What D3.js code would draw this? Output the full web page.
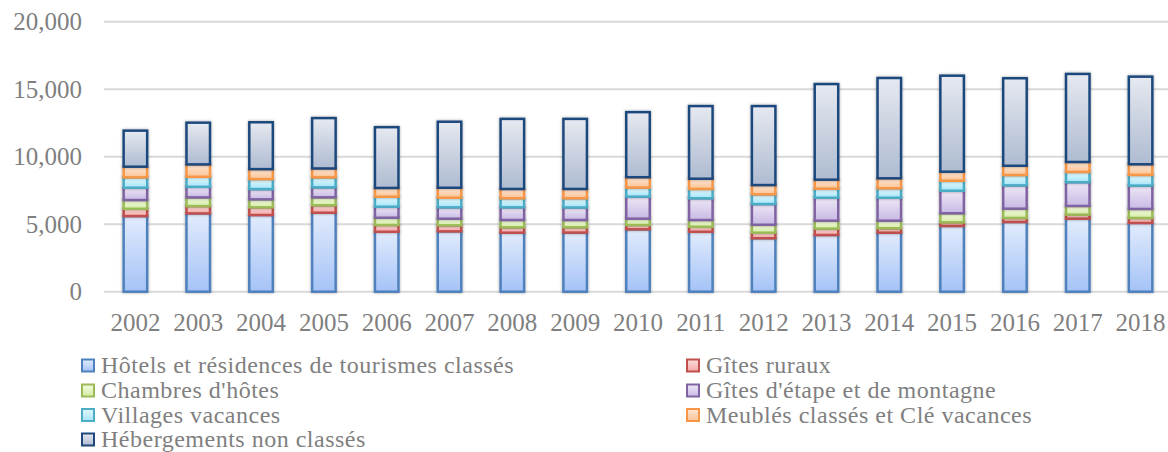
<!DOCTYPE html>
<html>
<head>
  <meta charset="utf-8">
  <script src="https://cdn.jsdelivr.net/npm/d3@7"></script>
  <style>
    body { margin: 0; background: #fff; }
    svg { display: block; font-family: "Liberation Serif", serif; }
  </style>
</head>
<body>
  <div id="container"></div>
  <script>
    // data
    const years = ["2002", "2003", "2004", "2005", "2006", "2007", "2008", "2009", "2010",
      "2011", "2012", "2013", "2014", "2015", "2016", "2017", "2018"];
    const hotels = [5600, 5800, 5680, 5850, 4440, 4470, 4370, 4380, 4620, 4440, 3960, 4200, 4370, 4870, 5160, 5410, 5090];
    const gitesRuraux = [540, 540, 570, 550, 500, 445, 400, 390, 320, 370, 410, 470, 330, 270, 300, 300, 370];
    const chambres = [650, 645, 590, 590, 540, 490, 540, 540, 470, 500, 590, 590, 560, 670, 690, 640, 670];
    const gitesEtape = [910, 785, 760, 740, 815, 845, 940, 930, 1630, 1610, 1530, 1700, 1700, 1670, 1730, 1760, 1730];
    const villages = [770, 740, 740, 740, 740, 710, 670, 680, 670, 690, 720, 670, 700, 740, 760, 760, 790];
    const meubles = [790, 920, 740, 660, 650, 740, 690, 690, 770, 760, 690, 670, 740, 670, 690, 740, 790];
    const nonClasses = [2670, 3090, 3470, 3730, 4500, 4890, 5190, 5190, 4820, 5380, 5850, 7080, 7430, 7110, 6480, 6520, 6490];
    const yTicks = [0, 5000, 10000, 15000, 20000];

    const seriesNames = ["Hôtels et résidences de tourismes classés", "Gîtes ruraux", "Chambres d'hôtes",
      "Gîtes d'étape et de montagne", "Villages vacances", "Meublés classés et Clé vacances", "Hébergements non classés"];
    const seriesValues = [hotels, gitesRuraux, chambres, gitesEtape, villages, meubles, nonClasses];

    // colours: border, gradient top, gradient bottom
    const strokes = ["#4f81bd", "#c0504d", "#9bbb59", "#8064a2", "#4bacc6", "#f79646", "#1f497d"];
    const topFill = ["#e1ebfc", "#fcdcdc", "#f3fbe0", "#eee8f6", "#e4f8fe", "#fee6d4", "#e6e9f0"];
    const botFill = ["#a5c3f7", "#f4a7a6", "#d5eca4", "#c8b9e4", "#a6e5f7", "#fbc395", "#aebbd1"];

    const width = 1168;
    const height = 452;

    const rows = years.map((y, i) => {
      const r = { year: y };
      seriesNames.forEach((n, k) => r[n] = seriesValues[k][i]);
      return r;
    });
    const stacked = d3.stack().keys(seriesNames)(rows);

    const svg = d3.select("#container")
      .append("svg")
      .attr("width", width)
      .attr("height", height);

    const defs = svg.append("defs");
    seriesNames.forEach((n, k) => {
      const g = defs.append("linearGradient")
        .attr("id", "grad" + k)
        .attr("x1", 0).attr("y1", 0).attr("x2", 0).attr("y2", 1);
      g.append("stop").attr("offset", "0%").attr("stop-color", topFill[k]);
      g.append("stop").attr("offset", "100%").attr("stop-color", botFill[k]);
    });
    defs.append("filter").attr("id", "shadow")
      .attr("x", "-30%").attr("y", "-30%").attr("width", "160%").attr("height", "160%")
      .append("feDropShadow")
      .attr("dx", 0).attr("dy", 0).attr("stdDeviation", 1.6)
      .attr("flood-color", "#000").attr("flood-opacity", 0.35);

    // scales
    const xScale = d3.scaleBand()
      .domain(years)
      .range([104, 1172])
      .paddingInner(0.586)
      .paddingOuter(0.293);

    const yScale = d3.scaleLinear()
      .domain([0, 20000])
      .range([291.7, 21.7]);

    // gridlines
    svg.append("g")
      .selectAll("line")
      .data(yTicks)
      .join("line")
      .attr("x1", 104)
      .attr("x2", width)
      .attr("y1", d => yScale(d))
      .attr("y2", d => yScale(d))
      .attr("stroke", "#d9d9d9")
      .attr("stroke-width", 2);

    // y axis labels
    const yAxis = svg.append("g")
      .attr("transform", "translate(104,0)")
      .call(d3.axisLeft(yScale).tickValues(yTicks).tickSize(0).tickPadding(22)
        .tickFormat(d3.format(",")));
    yAxis.select(".domain").remove();
    yAxis.selectAll("text")
      .attr("fill", "#7f7f7f")
      .style("font-family", "Liberation Serif")
      .style("font-size", "25px");

    // bars
    const barW = xScale.bandwidth();
    svg.append("g")
      .selectAll("g")
      .data(stacked)
      .join("g")
      .attr("filter", "url(#shadow)")
      .attr("fill", (d, k) => `url(#grad${k})`)
      .attr("stroke", (d, k) => strokes[k])
      .selectAll("rect")
      .data(d => d)
      .join("rect")
      .attr("x", d => xScale(d.data.year) + 1.25)
      .attr("width", barW - 2.5)
      .attr("y", d => yScale(d[1]))
      .attr("height", d => yScale(d[0]) - yScale(d[1]))
      .attr("stroke-width", 2.5);

    // x axis labels
    const xAxis = svg.append("g")
      .attr("transform", "translate(0,292)")
      .call(d3.axisBottom(xScale).tickSize(0).tickPadding(21));
    xAxis.select(".domain").remove();
    xAxis.selectAll("text")
      .attr("fill", "#7f7f7f")
      .style("font-family", "Liberation Serif")
      .style("font-size", "25px");

    // legend: two columns
    const legendPos = [
      [81, 373], [686, 373], [81, 398], [686, 398], [81, 422.5], [686, 422.5], [81, 447]
    ];
    const legend = svg.append("g")
      .selectAll("g")
      .data(seriesNames)
      .join("g")
      .attr("transform", (d, k) => `translate(${legendPos[k][0]},${legendPos[k][1]})`);
    legend.append("rect")
      .attr("x", 1)
      .attr("y", -13.5)
      .attr("width", 12)
      .attr("height", 12)
      .attr("fill", (d, k) => `url(#grad${k})`)
      .attr("stroke", (d, k) => strokes[k])
      .attr("stroke-width", 2);
    legend.append("text")
      .attr("x", 20)
      .attr("y", 0)
      .attr("fill", "#7f7f7f")
      .style("font-size", "24px")
      .style("letter-spacing", "0.5px")
      .text(d => d);
  </script>
</body>
</html>
